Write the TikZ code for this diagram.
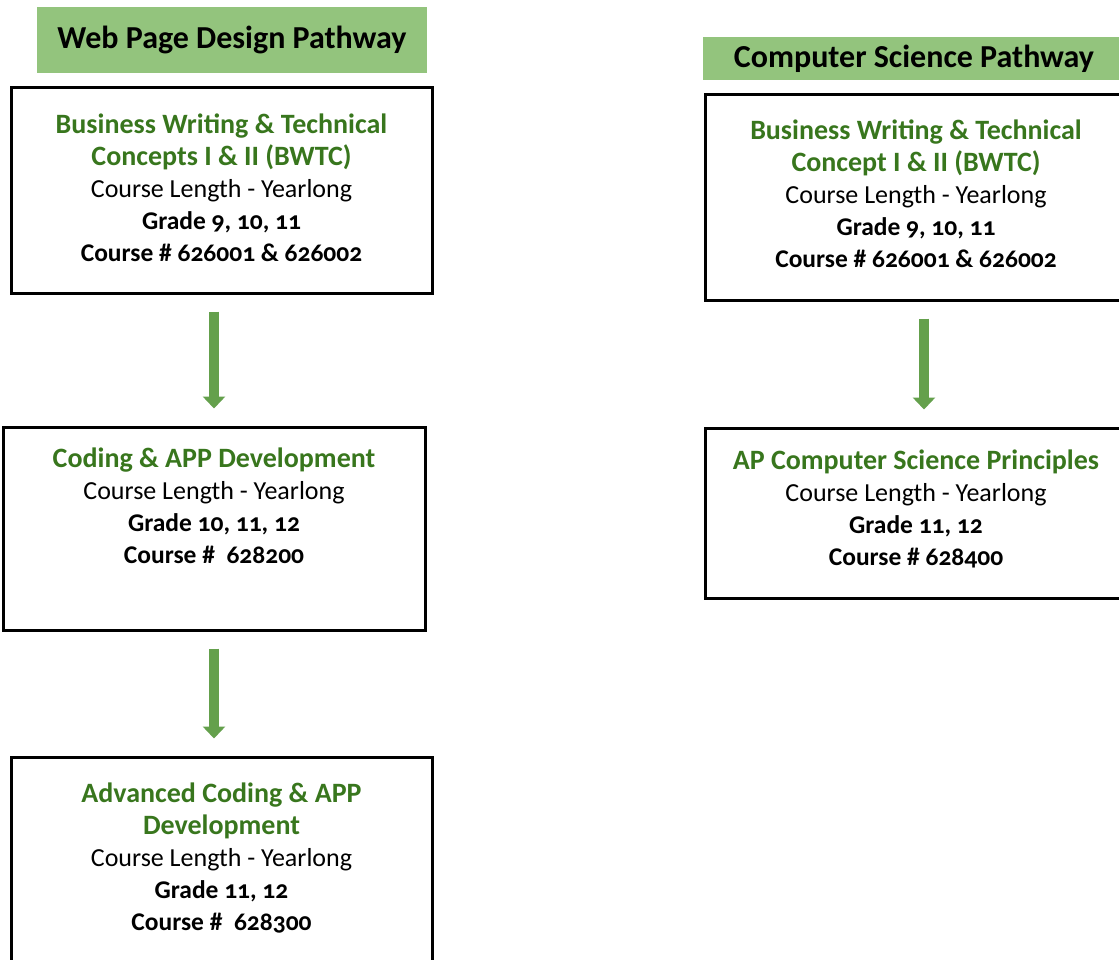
\documentclass[tikz,border=0pt]{standalone}
\usepackage{fontspec}
\setmainfont{Carlito}[Numbers=OldStyle]
\usetikzlibrary{arrows.meta}

\definecolor{hdrgreen}{RGB}{147,196,125}
\definecolor{titlegreen}{RGB}{56,118,29}
\definecolor{arrowgreen}{RGB}{100,160,76}

\newcommand{\ctitle}[1]{{\fontsize{28}{32}\selectfont\color{titlegreen}\bfseries #1}}
\newcommand{\cbold}[1]{{\fontsize{25.5}{32}\selectfont\bfseries #1}}

\tikzset{every picture/.style={line width=0.75pt}}
\tikzset{
  header/.style={fill=hdrgreen, inner sep=0pt, font=\fontsize{32}{36}\selectfont\bfseries},
  coursebox/.style={draw=black, line width=3, inner sep=0pt},
  coursetext/.style={anchor=north, align=center, inner sep=0pt, font=\fontsize{26}{32}\selectfont},
  patharrow/.style={draw=arrowgreen, line width=10, -{Triangle[width=22pt,length=12pt]}, shorten <=17, shorten >=17}
}

\begin{document}
\begin{tikzpicture}[x=1pt,y=1pt,yscale=-1,xscale=1]
\useasboundingbox (0,0) rectangle (1119,960);

% Headers
\node [header, minimum width=390, minimum height=66] (hweb) at (232,40) {Web Page Design Pathway};
\node [header, minimum width=422, minimum height=43] (hcs) at (914,58.5) {Computer Science Pathway};

% Web page design boxes
\node [coursebox, minimum width=421, minimum height=205] (bwtc) at (221.5,190.5) {};
\node [coursebox, minimum width=422, minimum height=203] (coding) at (214,528.5) {};
\node [coursebox, minimum width=421, minimum height=220] (advcoding) at (221.5,867) {};

% Computer science boxes
\node [coursebox, minimum width=422, minimum height=205] (csbwtc) at (916,197.5) {};
\node [coursebox, minimum width=422, minimum height=170] (apcsp) at (916,513) {};

% Text Node
\node [coursetext] (tbwtc) at ([yshift=27]bwtc.north) {\ctitle{Business Writing \& Technical}\\ \ctitle{Concepts I \& II (BWTC)}\\ Course Length - Yearlong\\ \cbold{Grade 9, 10, 11}\\ \cbold{Course \# 626001 \& 626002}};
% Text Node
\node [coursetext] (tcoding) at ([yshift=22]coding.north) {\ctitle{Coding \& APP Development}\\ Course Length - Yearlong\\ \cbold{Grade 10, 11, 12}\\ \cbold{Course \#\ \ 628200}};
% Text Node
\node [coursetext] (tadvcoding) at ([yshift=27]advcoding.north) {\ctitle{Advanced Coding \& APP}\\ \ctitle{Development}\\ Course Length - Yearlong\\ \cbold{Grade 11, 12}\\ \cbold{Course \#\ \ 628300}};
% Text Node
\node [coursetext] (tcsbwtc) at ([yshift=26]csbwtc.north) {\ctitle{Business Writing \& Technical}\\ \ctitle{Concept I \& II (BWTC)}\\ Course Length - Yearlong\\ \cbold{Grade 9, 10, 11}\\ \cbold{Course \# 626001 \& 626002}};
% Text Node
\node [coursetext] (tapcsp) at ([yshift=23]apcsp.north) {\ctitle{AP Computer Science Principles}\\ Course Length - Yearlong\\ \cbold{Grade 11, 12}\\ \cbold{Course \# 628400}};

% Arrows
\draw [patharrow] (bwtc.south -| coding.north) -- (coding.north);
\draw [patharrow] (coding.south) -- (advcoding.north -| coding.south);
\draw [patharrow] ([xshift=8]csbwtc.south) -- ([xshift=8]apcsp.north);

\end{tikzpicture}
\end{document}
